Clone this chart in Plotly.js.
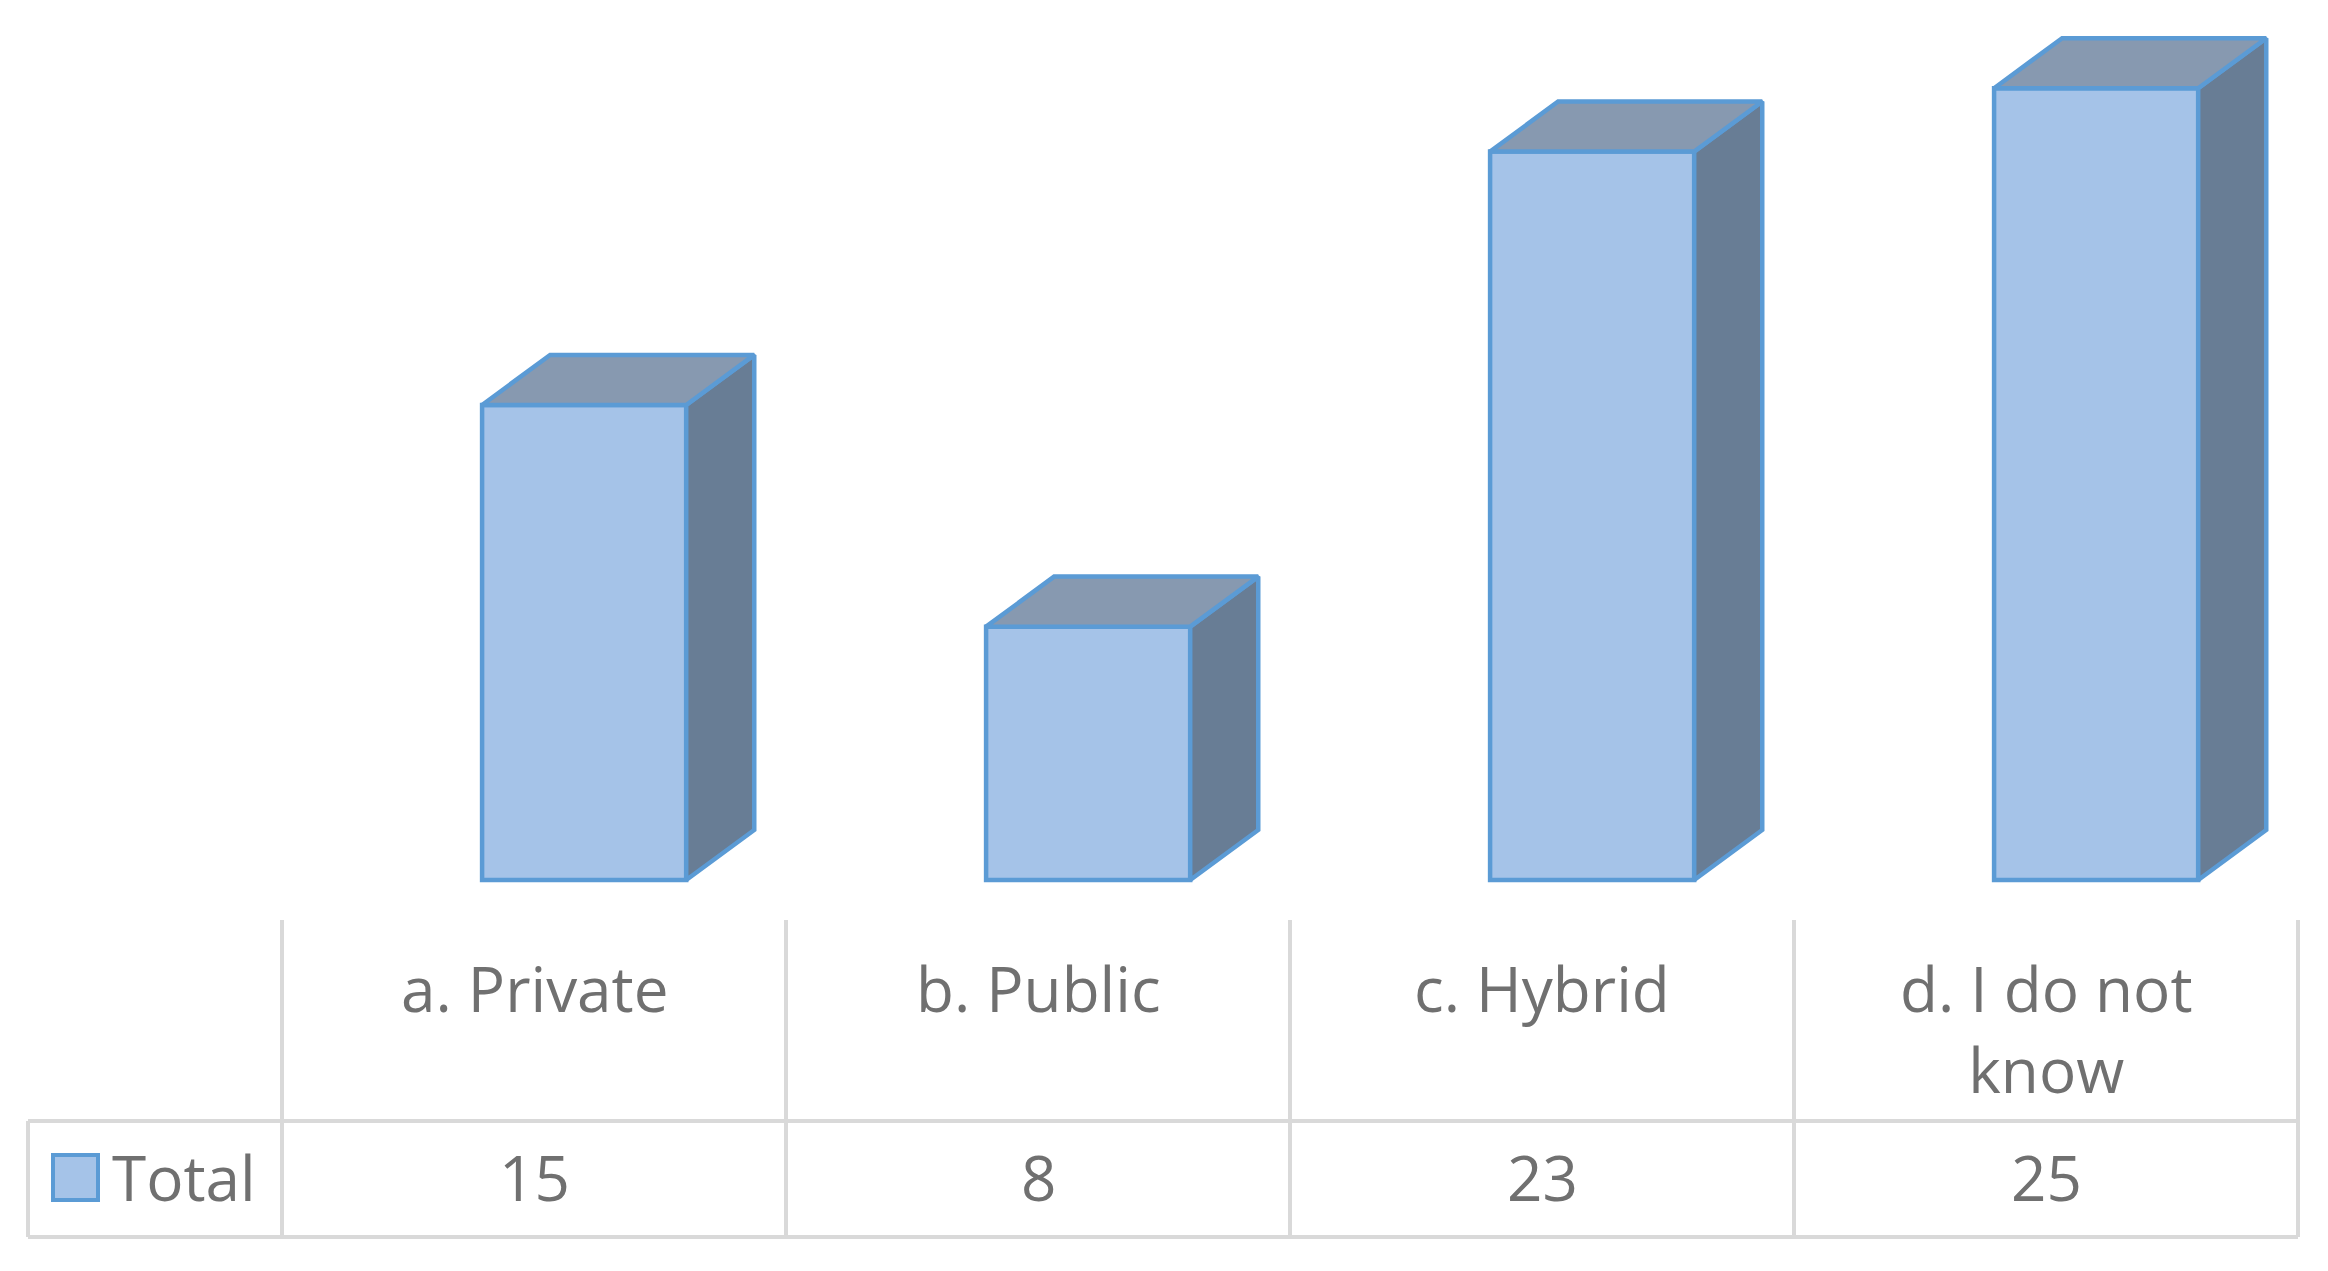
<!DOCTYPE html>
<html>
<head>
<meta charset="utf-8">
<script src="https://cdn.plot.ly/plotly-3.0.1.min.js"></script>
<style>
  html, body { margin: 0; padding: 0; background: #fff; }
  #container { width: 2328px; height: 1271px; }
</style>
</head>
<body>
<div id="container"></div>
<script>
// data
var categories = ['a. Private', 'b. Public', 'c. Hybrid', 'd. I do not know'];
var categoryLabels = ['a. Private', 'b. Public', 'c. Hybrid', 'd. I do not<br>know'];
var totals = [15, 8, 23, 25];
var seriesName = 'Total';

// look of the fake 3d columns
var barWidth = 0.405, barOffset = -0.103;
var depthX = 0.135, depthY = 1.58;
var edgeColor = '#5b9bd5';
var frontColor = '#a5c3e8';
var topColor = '#8799b0';
var sideColor = '#687d95';
var gridColor = '#d9d9d9';
var textFont = { family: 'Open Sans, sans-serif', size: 62, color: '#707070' };

// page geometry (pixels) used for the data table under the plot
var W = 2328, H = 1271;
var plotL = 282, plotR = 2298, plotT = 9, plotB = 885;
function px(X) { return (X - plotL) / (plotR - plotL); }
function py(Y) { return (plotB - Y) / (plotB - plotT); }

var idx = categories.map(function (c, i) { return i; });

var tops = { x: [], y: [] }, sides = { x: [], y: [] };
idx.forEach(function (i) {
    var xl = i + barOffset, xr = xl + barWidth, v = totals[i];
    tops.x.push(xl, xr, xr + depthX, xl + depthX, xl, null);
    tops.y.push(v, v, v + depthY, v + depthY, v, null);
    sides.x.push(xr, xr + depthX, xr + depthX, xr, xr, null);
    sides.y.push(0, depthY, v + depthY, v, 0, null);
});

var front = {
    type: 'bar',
    x: idx,
    y: totals,
    name: seriesName,
    width: barWidth,
    offset: barOffset,
    marker: { color: frontColor, line: { color: edgeColor, width: 4.5 } },
    hoverinfo: 'skip'
};
var topFaces = {
    type: 'scatter', mode: 'lines', x: tops.x, y: tops.y,
    fill: 'toself', fillcolor: topColor,
    line: { color: edgeColor, width: 4.5 }, hoverinfo: 'skip'
};
var sideFaces = {
    type: 'scatter', mode: 'lines', x: sides.x, y: sides.y,
    fill: 'toself', fillcolor: sideColor,
    line: { color: edgeColor, width: 4.5 }, hoverinfo: 'skip'
};

// data table: grid lines, legend key, labels and values
var line = { color: gridColor, width: 4 };
var shapes = [];
for (var k = 0; k <= categories.length; k++) {
    shapes.push({ type: 'line', xref: 'paper', yref: 'paper',
        x0: k / categories.length, x1: k / categories.length,
        y0: py(920), y1: py(1237), line: line });
}
shapes.push({ type: 'line', xref: 'paper', yref: 'paper', x0: px(28), x1: 1, y0: py(1121), y1: py(1121), line: line });
shapes.push({ type: 'line', xref: 'paper', yref: 'paper', x0: px(28), x1: 1, y0: py(1237), y1: py(1237), line: line });
shapes.push({ type: 'line', xref: 'paper', yref: 'paper', x0: px(28), x1: px(28), y0: py(1121), y1: py(1237), line: line });
shapes.push({ type: 'rect', xref: 'paper', yref: 'paper', x0: px(53), x1: px(98), y0: py(1200), y1: py(1155),
    fillcolor: frontColor, line: { color: edgeColor, width: 4 } });

var annotations = [];
idx.forEach(function (i) {
    annotations.push({ xref: 'x', yref: 'paper', x: i, y: py(944), yanchor: 'top',
        text: categoryLabels[i], showarrow: false, font: textFont });
    annotations.push({ xref: 'x', yref: 'paper', x: i, y: py(1177), yanchor: 'middle',
        text: String(totals[i]), showarrow: false, font: textFont });
});
annotations.push({ xref: 'paper', yref: 'paper', x: px(110), y: py(1177), xanchor: 'left', yanchor: 'middle',
    text: seriesName, showarrow: false, font: textFont });

var hidden = { showgrid: false, zeroline: false, showline: false, showticklabels: false, ticks: '' };

var layout = {
    width: W,
    height: H,
    margin: { l: plotL, r: W - plotR, t: plotT, b: H - plotB, pad: 0 },
    xaxis: Object.assign({ range: [-0.5, 3.5] }, hidden),
    yaxis: Object.assign({ range: [-(plotB - 880) / 31.67, (880 - plotT) / 31.67] }, hidden),
    showlegend: false,
    plot_bgcolor: '#ffffff',
    paper_bgcolor: '#ffffff',
    shapes: shapes,
    annotations: annotations,
    font: textFont
};

Plotly.newPlot('container', [sideFaces, topFaces, front], layout, { displayModeBar: false, staticPlot: true });
</script>
</body>
</html>
